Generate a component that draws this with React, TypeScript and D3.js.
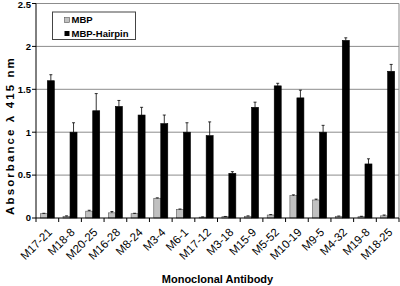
import React from "react";
import * as d3 from "d3";

const categories = ["M17-21","M18-8","M20-25","M16-28","M8-24","M3-4","M6-1","M17-12","M3-18","M15-9","M5-52","M10-19","M9-5","M4-32","M19-8","M18-25"];
const mbpValues = [0.05,0.02,0.08,0.06,0.05,0.23,0.10,0.01,0.015,0.02,0.035,0.26,0.21,0.02,0.015,0.025];
const mbpErrors = [0.005,0.005,0.01,0.015,0.005,0.005,0.005,0.003,0.003,0.005,0.005,0.01,0.01,0.003,0.005,0.01];
const hairpinValues = [1.60,1.00,1.25,1.30,1.20,1.10,1.00,0.96,0.52,1.29,1.54,1.40,1.00,2.07,0.63,1.71];
const hairpinErrors = [0.07,0.11,0.20,0.07,0.09,0.10,0.11,0.16,0.02,0.06,0.03,0.09,0.08,0.03,0.06,0.08];
const yTicks = [0,0.5,1,1.5,2,2.5];
const yTickLabels = ["0","0.5","1","1.5","2","2.5"];
const seriesNames = ["MBP","MBP-Hairpin"];

const FONT = "'Liberation Sans', Arial, Helvetica, sans-serif";

export default function App() {
  const W = 400, H = 286;
  const left = 36, right = 399, top = 3.5, bottom = 218;
  const x = d3.scaleBand<string>().domain(categories).range([left, right]).padding(0);
  const y = d3.scaleLinear().domain([0, 2.5]).range([bottom, top]);
  const bw = x.bandwidth();
  const barW = 7;
  const off = (bw - 2 * barW) / 2;
  const series = [
    { vals: mbpValues, errs: mbpErrors, fill: "#c0c0c0", stroke: "#555" },
    { vals: hairpinValues, errs: hairpinErrors, fill: "#000", stroke: "#000" },
  ];
  return (
    <svg width={W} height={H} style={{ position: "absolute", left: 0, top: 0, background: "#fff" }} fontFamily={FONT}>
      <rect x={0} y={0} width={W} height={H} fill="#fff" />
      {/* gridlines */}
      {yTicks.filter(t => t > 0).map(t => (
        <line key={t} x1={left} x2={right} y1={y(t)} y2={y(t)} stroke="#8c8c8c" strokeWidth={1} />
      ))}
      <line x1={right} x2={right} y1={y(2.5)} y2={bottom} stroke="#8c8c8c" strokeWidth={1} />
      {/* bars */}
      {series.map((s, si) =>
        categories.map((c, i) => {
          const bx = (x(c) as number) + off + si * barW;
          const v = s.vals[i];
          const e = s.errs[i];
          const cx = bx + barW / 2;
          return (
            <g key={`${si}-${i}`}>
              <rect x={bx} y={y(v)} width={barW} height={bottom - y(v)} fill={s.fill} stroke={s.stroke} strokeWidth={0.6} />
              <line x1={cx} x2={cx} y1={y(v)} y2={y(v + e)} stroke="#000" strokeWidth={0.8} />
              <line x1={cx - 1.5} x2={cx + 1.5} y1={y(v + e)} y2={y(v + e)} stroke="#000" strokeWidth={0.8} />
            </g>
          );
        })
      )}
      {/* y axis */}
      <line x1={left} x2={left} y1={top} y2={bottom} stroke="#000" strokeWidth={1} />
      {yTicks.map((t, i) => (
        <g key={t}>
          <line x1={left - 4} x2={left} y1={y(t)} y2={y(t)} stroke="#000" strokeWidth={1} />
          <text x={left - 5} y={Math.max(y(t) + 3.3, 8)} textAnchor="end" fontSize={9.5} fontWeight="bold">{yTickLabels[i]}</text>
        </g>
      ))}
      {/* x axis */}
      <line x1={left} x2={right} y1={bottom} y2={bottom} stroke="#000" strokeWidth={1} />
      {categories.map((c, i) => (
        <line key={c} x1={(x(c) as number)} x2={(x(c) as number)} y1={bottom} y2={bottom + 4} stroke="#000" strokeWidth={1} />
      ))}
      <line x1={right} x2={right} y1={bottom} y2={bottom + 4} stroke="#000" strokeWidth={1} />
      {categories.map(c => {
        const cx = (x(c) as number) + bw / 2 + 5.5;
        const cy = 233;
        return (
          <text key={c} x={cx} y={cy} textAnchor="end" fontSize={11.5} transform={`rotate(-45 ${cx} ${cy})`}>{c}</text>
        );
      })}
      <text x={(left + right) / 2} y={283} textAnchor="middle" fontSize={11} fontWeight="bold">Monoclonal Antibody</text>
      <text transform={`translate(13.5 ${135.5}) rotate(-90)`} textAnchor="middle" fontSize={11.5} fontWeight="bold" letterSpacing={2.1}>Absorbance λ 415 nm</text>
      {/* legend */}
      <rect x={52.5} y={12} width={83} height={27.5} fill="#fff" stroke="#444" strokeWidth={1} />
      <rect x={64.5} y={17.5} width={5} height={5} fill="#c0c0c0" stroke="#555" strokeWidth={0.6} />
      <text x={71.5} y={23.3} fontSize={9.5} fontWeight="bold">{seriesNames[0]}</text>
      <rect x={64.5} y={31} width={5} height={5} fill="#000" />
      <text x={71.5} y={36.8} fontSize={9.5} fontWeight="bold">{seriesNames[1]}</text>
    </svg>
  );
}
